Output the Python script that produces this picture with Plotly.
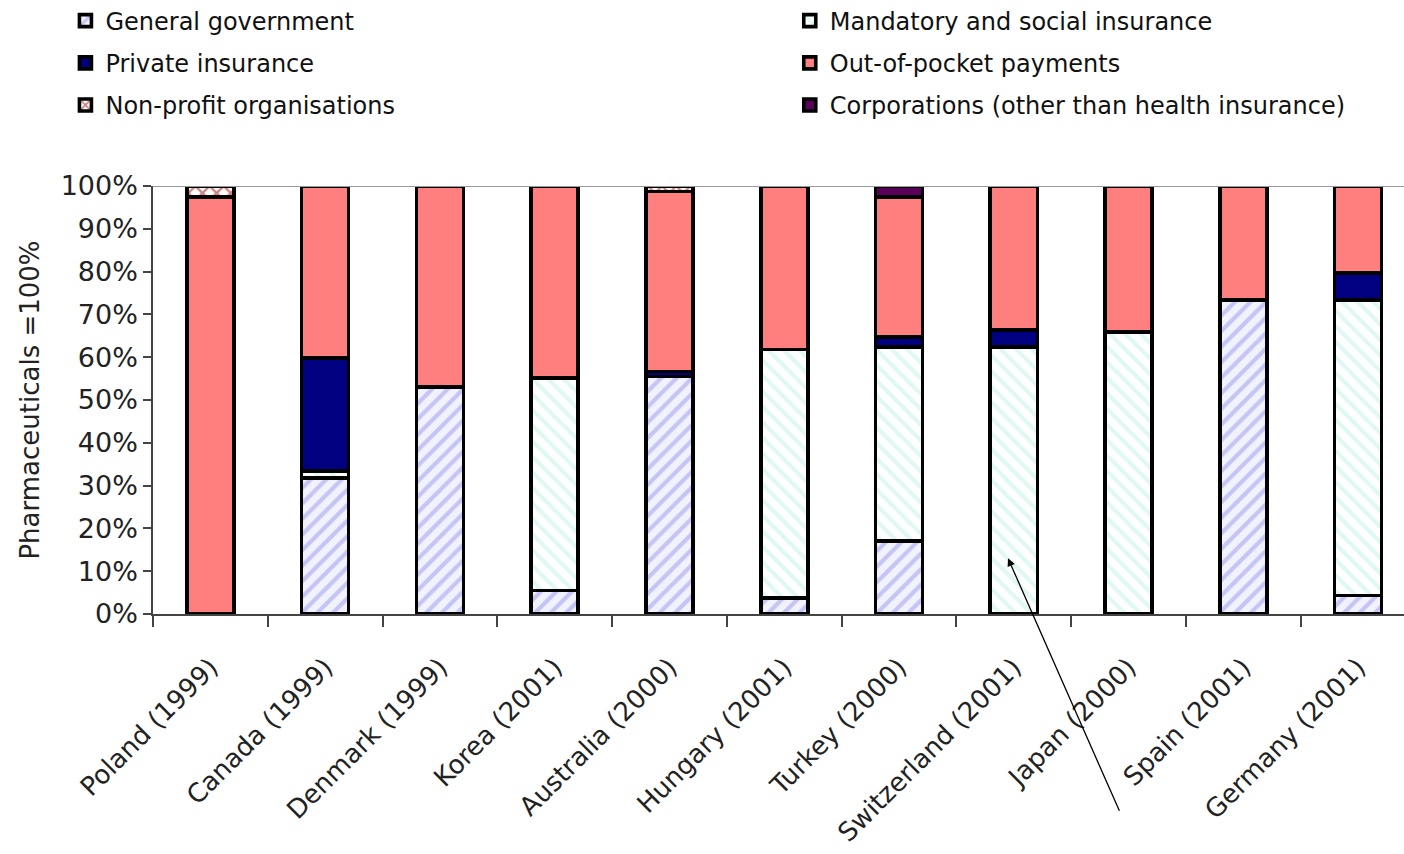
import plotly.graph_objects as go

countries = ["Poland (1999)", "Canada (1999)", "Denmark (1999)", "Korea (2001)",
             "Australia (2000)", "Hungary (2001)", "Turkey (2000)", "Switzerland (2001)",
             "Japan (2000)", "Spain (2001)", "Germany (2001)"]

general_government = [None, 31.8, 53.0, 5.5, 55.5, 3.8, 17.0, None, None, 73.4, 4.3]
mandatory_social = [None, 1.6, None, 49.6, None, 58.0, 45.4, 62.4, 65.9, None, 69.1]
private_insurance = [None, 26.4, None, None, 1.2, None, 2.3, 3.9, None, None, 6.3]
out_of_pocket = [97.5, 40.2, 47.0, 44.9, 42.0, 38.2, 32.7, 33.7, 34.1, 26.6, 20.3]
non_profit = [2.5, None, None, None, 1.3, None, None, None, None, None, None]
corporations = [None, None, None, None, None, None, 2.6, None, None, None, None]

y_ticks = [0, 10, 20, 30, 40, 50, 60, 70, 80, 90, 100]
y_tick_labels = ["0%", "10%", "20%", "30%", "40%", "50%", "60%", "70%", "80%", "90%", "100%"]

FONT = "DejaVu Sans"
LINE = dict(color="black", width=3.6)
BW = 0.41

fig = go.Figure()

def add(name, vals, color, legend, pattern=None):
    marker = dict(color=color, line=LINE)
    if pattern:
        marker["pattern"] = pattern
    fig.add_trace(go.Bar(name=name, x=countries, y=vals, width=BW, marker=marker,
                         legend=legend, legendgroup=name))

add("General government", general_government, "#F2F2FF", "legend",
    dict(shape="/", fgcolor="#9595EC", bgcolor="#F2F2FF", size=11, solidity=0.38))
add("Mandatory and social insurance", mandatory_social, "#FFFFFF", "legend2",
    dict(shape="\\", fgcolor="#C0F2EA", bgcolor="#FFFFFF", size=11, solidity=0.38))
add("Private insurance", private_insurance, "#000080", "legend")
add("Out-of-pocket payments", out_of_pocket, "#FF7F7F", "legend2")
add("Non-profit organisations", non_profit, "#FFFFFF", "legend",
    dict(shape="x", fgcolor="#A00000", bgcolor="#FFFFFF", size=10, solidity=0.4))
add("Corporations (other than health insurance)", corporations, "#5A005A", "legend2")

legend_common = dict(font=dict(family=FONT, size=24, color="#111"),
                     bgcolor="rgba(0,0,0,0)", tracegroupgap=8,
                     yanchor="top", xanchor="left", traceorder="grouped",
                     itemclick=False, itemdoubleclick=False)

fig.update_layout(
    barmode="stack",
    width=1404, height=854,
    margin=dict(l=153, r=0, t=186, b=240, autoexpand=False),
    paper_bgcolor="white", plot_bgcolor="white",
    font=dict(family=FONT, color="#222"),
    legend=dict(x=-0.07, y=1.438, **legend_common),
    legend2=dict(x=0.509, y=1.438, **legend_common),
    bargap=0.5,
)

fig.update_xaxes(
    type="category", range=[-0.5, 10.4],
    showline=True, linecolor="#444", linewidth=1.5,
    ticks="outside", tickson="boundaries", ticklen=11, tickcolor="#444", tickwidth=1.5,
    tickangle=-45, tickfont=dict(family=FONT, size=26, color="#222"),
    ticklabelstandoff=26,
    showgrid=False,
)
fig.update_yaxes(
    range=[0, 100], tickmode="array", tickvals=y_ticks, ticktext=y_tick_labels,
    showline=True, linecolor="#444", linewidth=1.5,
    ticks="outside", ticklen=8, tickcolor="#444", tickwidth=1.5,
    tickfont=dict(family=FONT, size=27, color="#222"),
    showgrid=False, zeroline=False,
    title=dict(text="Pharmaceuticals =100%", font=dict(family=FONT, size=26, color="#222"), standoff=14),
)

# top border line at 100%
fig.add_shape(type="line", xref="paper", yref="y", x0=0, x1=1, y0=100, y1=100,
              line=dict(color="#999", width=2))

# arrow pointing at the Switzerland bar
fig.add_annotation(x=6.95, y=13, xref="x", yref="y", text="", showarrow=True,
                   ax=112, ay=254, axref="pixel", ayref="pixel",
                   arrowhead=2, arrowsize=1.2, arrowwidth=1.3, arrowcolor="black")

fig.write_html("out.html")
